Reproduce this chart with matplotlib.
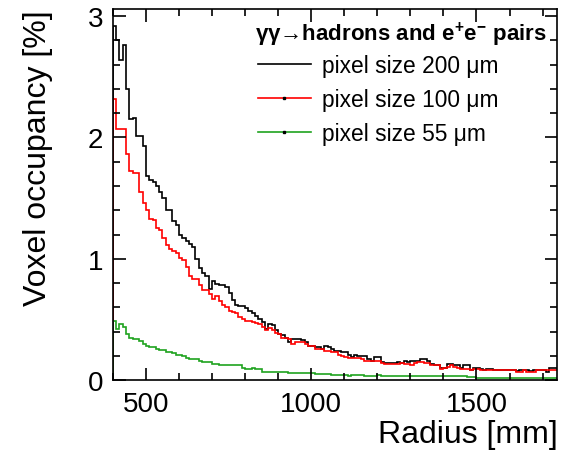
import matplotlib
matplotlib.use("Agg")
import matplotlib.pyplot as plt
from matplotlib.lines import Line2D
from matplotlib.ticker import MultipleLocator
import numpy as np

plt.rcParams['font.family'] = ['Liberation Sans', 'DejaVu Sans']
plt.rcParams['mathtext.fontset'] = 'custom'
plt.rcParams['mathtext.rm'] = 'Liberation Sans'
plt.rcParams['mathtext.bf'] = 'Liberation Sans:bold'

#-------------------------# DATA #-------------------------#

# radius bins: 10 mm wide, from 400 to 1750 mm
bin_start = 400
bin_stop = 1750
bin_width = 10

occ_200um = [
    2.92, 2.80, 2.64, 2.76, 2.40, 2.15, 2.16, 2.01, 2.01, 1.93,
    1.68, 1.65, 1.63, 1.60, 1.55, 1.50, 1.40, 1.40, 1.31, 1.28,
    1.20, 1.17, 1.15, 1.12, 1.10, 1.00, 0.92, 0.88, 0.86, 0.75,
    0.82, 0.79, 0.78, 0.78, 0.77, 0.72, 0.66, 0.62, 0.61, 0.61,
    0.59, 0.57, 0.55, 0.53, 0.50, 0.48, 0.42, 0.46, 0.45, 0.41,
    0.38, 0.37, 0.35, 0.31, 0.34, 0.34, 0.34, 0.33, 0.31, 0.28,
    0.28, 0.27, 0.27, 0.26, 0.28, 0.27, 0.26, 0.24, 0.24, 0.23,
    0.23, 0.21, 0.19, 0.21, 0.20, 0.20, 0.20, 0.17, 0.16, 0.19,
    0.19, 0.15, 0.14, 0.14, 0.14, 0.14, 0.15, 0.14, 0.16, 0.15,
    0.16, 0.16, 0.16, 0.17, 0.17, 0.16, 0.13, 0.12, 0.12, 0.10,
    0.10, 0.13, 0.13, 0.12, 0.12, 0.10, 0.12, 0.12, 0.08, 0.10,
    0.10, 0.09, 0.08, 0.09, 0.09, 0.08, 0.08, 0.085, 0.08, 0.08,
    0.08, 0.08, 0.075, 0.08, 0.08, 0.08, 0.075, 0.08, 0.08, 0.08,
    0.08, 0.07, 0.10, 0.10, 0.10,
]

occ_100um = [
    2.32, 2.07, 2.07, 2.07, 1.86, 1.72, 1.71, 1.71, 1.55, 1.46,
    1.40, 1.33, 1.32, 1.25, 1.24, 1.17, 1.11, 1.08, 1.06, 1.05,
    1.01, 0.99, 0.93, 0.86, 0.83, 0.83, 0.78, 0.74, 0.74, 0.71,
    0.67, 0.69, 0.65, 0.62, 0.60, 0.57, 0.56, 0.55, 0.52, 0.50,
    0.49, 0.49, 0.48, 0.47, 0.46, 0.44, 0.41, 0.43, 0.41, 0.39,
    0.38, 0.35, 0.35, 0.34, 0.30, 0.31, 0.31, 0.31, 0.30, 0.28,
    0.28, 0.26, 0.26, 0.26, 0.24, 0.24, 0.23, 0.23, 0.21, 0.20,
    0.19, 0.18, 0.18, 0.18, 0.18, 0.17, 0.16, 0.16, 0.16, 0.16,
    0.16, 0.14, 0.13, 0.13, 0.13, 0.13, 0.13, 0.14, 0.13, 0.13,
    0.12, 0.14, 0.15, 0.15, 0.14, 0.14, 0.12, 0.12, 0.12, 0.09,
    0.10, 0.11, 0.12, 0.11, 0.10, 0.09, 0.09, 0.09, 0.08, 0.09,
    0.09, 0.085, 0.085, 0.085, 0.085, 0.085, 0.085, 0.085, 0.085, 0.085,
    0.085, 0.085, 0.07, 0.07, 0.085, 0.07, 0.07, 0.07, 0.08, 0.08,
    0.08, 0.083, 0.083, 0.083, 0.083,
]

occ_55um = [
    0.49, 0.42, 0.46, 0.44, 0.38, 0.35, 0.34, 0.34, 0.32, 0.30,
    0.28, 0.27, 0.27, 0.26, 0.25, 0.25, 0.23, 0.23, 0.22, 0.21,
    0.21, 0.20, 0.18, 0.17, 0.17, 0.17, 0.16, 0.15, 0.15, 0.15,
    0.13, 0.13, 0.12, 0.12, 0.12, 0.12, 0.12, 0.12, 0.12, 0.10,
    0.09, 0.09, 0.10, 0.09, 0.09, 0.07, 0.07, 0.07, 0.07, 0.07,
    0.07, 0.07, 0.07, 0.06, 0.06, 0.06, 0.06, 0.06, 0.06, 0.06,
    0.06, 0.05, 0.05, 0.05, 0.05, 0.05, 0.04, 0.04, 0.04, 0.04,
    0.04, 0.035, 0.04, 0.04, 0.04, 0.04, 0.035, 0.035, 0.035, 0.035,
    0.04, 0.03, 0.03, 0.03, 0.03, 0.03, 0.03, 0.03, 0.03, 0.03,
    0.03, 0.03, 0.03, 0.03, 0.03, 0.03, 0.03, 0.03, 0.03, 0.03,
    0.035, 0.035, 0.03, 0.03, 0.03, 0.035, 0.035, 0.025, 0.025, 0.025,
    0.02, 0.02, 0.02, 0.02, 0.02, 0.02, 0.02, 0.02, 0.02, 0.02,
    0.02, 0.02, 0.02, 0.02, 0.02, 0.02, 0.02, 0.02, 0.02, 0.02,
    0.02, 0.02, 0.02, 0.02, 0.02,
]

labels = ['pixel size 200 \u03bcm', 'pixel size 100 \u03bcm', 'pixel size 55 \u03bcm']
colors = ['black', '#ff0000', '#1fa31f']
header = '\u03b3\u03b3\u2192hadrons and e$^{\\mathbf{+}}$e$^{\\mathbf{-}}$ pairs'

#-------------------------# PLOT #-------------------------#

edges = np.arange(bin_start, bin_stop + bin_width, bin_width)

fig = plt.figure(figsize=(5.70, 4.52), dpi=100)
ax = fig.add_axes([0.198, 0.157, 0.780, 0.821])

for vals, c in zip([occ_200um, occ_100um, occ_55um], colors):
    ax.stairs(vals, edges, baseline=0, color=c, linewidth=1.2)

ax.set_xlim(400, 1745)
ax.set_ylim(0, 3.06)

ax.xaxis.set_major_locator(MultipleLocator(500))
ax.xaxis.set_minor_locator(MultipleLocator(100))
ax.yaxis.set_major_locator(MultipleLocator(1))
ax.yaxis.set_minor_locator(MultipleLocator(0.2))

ax.tick_params(which='both', direction='in', top=True, right=True, width=1.2,
               labelsize=20)
ax.tick_params(which='major', length=9)
ax.tick_params(which='minor', length=5)
ax.tick_params(axis='x', pad=8)
ax.tick_params(axis='y', pad=7)
for s in ax.spines.values():
    s.set_linewidth(1.2)

ax.set_xlabel('Radius [mm]', fontsize=23, loc='right')
ax.xaxis.set_label_coords(1.0, -0.105)
ax.set_ylabel('Voxel occupancy [%]', fontsize=23, loc='top')
ax.yaxis.set_label_coords(-0.135, 1.0)

handles = [Line2D([], [], color=colors[0], linewidth=1.2),
           Line2D([], [], color=colors[1], linewidth=1.2, marker='s',
                  markersize=1.5, markerfacecolor='k', markeredgecolor='k'),
           Line2D([], [], color=colors[2], linewidth=1.2, marker='s',
                  markersize=1.5, markerfacecolor='k', markeredgecolor='k')]
ax.legend(handles, labels, loc='upper left', bbox_to_anchor=(0.327, 0.878),
          frameon=False, fontsize=16.4, handlelength=2.3, handletextpad=0.5,
          labelspacing=0.48, borderpad=0, borderaxespad=0)

ax.text(0.3193, 0.9326, header, transform=ax.transAxes, fontsize=16,
        fontweight='bold', va='center', ha='left')

fig.savefig('out.png', dpi=100)
